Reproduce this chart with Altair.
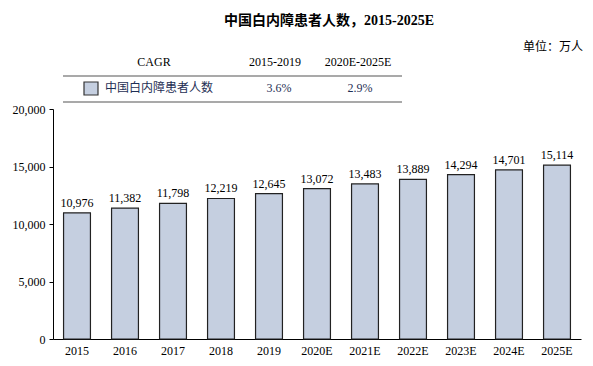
import altair as alt
import pandas as pd

years = ["2015", "2016", "2017", "2018", "2019", "2020E", "2021E", "2022E", "2023E", "2024E", "2025E"]
patients = [10976, 11382, 11798, 12219, 12645, 13072, 13483, 13889, 14294, 14701, 15114]
y_ticks = [0, 5000, 10000, 15000, 20000]

title_text = "中国白内障患者人数，2015-2025E"
unit_text = "单位：万人"
cagr_header = ["CAGR", "2015-2019", "2020E-2025E"]
series_name = "中国白内障患者人数"
cagr_values = ["3.6%", "2.9%"]

FONT = "Liberation Serif, Times New Roman, Noto Sans CJK SC"
BAR_FILL = "#c5cfe0"

df = pd.DataFrame({"year": years, "value": patients})

W, H = 528, 230

x_enc = alt.X("year:N", sort=None, title=None,
              scale=alt.Scale(paddingInner=0.44, paddingOuter=0.22),
              axis=alt.Axis(labelAngle=0, ticks=False, domainColor="#000000",
                            labelFont=FONT, labelFontSize=12, labelColor="#000000",
                            labelPadding=6))
y_enc = alt.Y("value:Q", title=None,
              scale=alt.Scale(domain=[0, 20000], nice=False),
              axis=alt.Axis(values=y_ticks, format=",.0f", grid=False, domainColor="#000000",
                            tickColor="#000000", tickSize=4, labelFont=FONT,
                            labelFontSize=12, labelColor="#000000", labelPadding=4))

base = alt.Chart(df)
bars = base.mark_bar(fill=BAR_FILL, stroke="#222222", strokeWidth=1.2).encode(x=x_enc, y=y_enc)
labels = base.mark_text(baseline="bottom", dy=-3, font=FONT, fontSize=12, color="#000000").encode(
    x=x_enc, y=y_enc,
    text=alt.Text("value:Q", format=","),
)


def txt(s, x, y, align="center", size=12, weight="normal", color="#000000"):
    return alt.Chart(pd.DataFrame({"t": [s]})).mark_text(
        align=align, baseline="middle", font=FONT, fontSize=size,
        fontWeight=weight, color=color
    ).encode(x=alt.value(x), y=alt.value(y), text="t:N")


def hline(x1, x2, y):
    return alt.Chart(pd.DataFrame({"t": [0]})).mark_rule(color="#8c8c8c", strokeWidth=1.5).encode(
        x=alt.value(x1), x2=alt.value(x2), y=alt.value(y))


swatch = alt.Chart(pd.DataFrame({"t": [0]})).mark_rect(
    fill=BAR_FILL, stroke="#333333", strokeWidth=1.2).encode(
    x=alt.value(31), x2=alt.value(45), y=alt.value(-27), y2=alt.value(-14))

layers = [
    bars, labels,
    txt(title_text, 276, -88, size=14, weight="bold"),
    txt(unit_text, 530, -62, align="right", size=12),
    txt(cagr_header[0], 101, -47),
    txt(cagr_header[1], 222, -47),
    txt(cagr_header[2], 305, -47),
    hline(10, 349, -33),
    hline(10, 349, -7),
    swatch,
    txt(series_name, 52, -21, align="left", color="#1f2f55"),
    txt(cagr_values[0], 226, -21, color="#1f2f55"),
    txt(cagr_values[1], 307, -21, color="#1f2f55"),
]

chart = alt.layer(*layers).properties(
    width=W, height=H,
    autosize=alt.AutoSizeParams(type="none"),
    padding={"left": 45, "top": 101, "right": 4, "bottom": 22},
).configure_view(stroke=None)

chart.save("out.html", embed_options={"renderer": "svg", "actions": False})
